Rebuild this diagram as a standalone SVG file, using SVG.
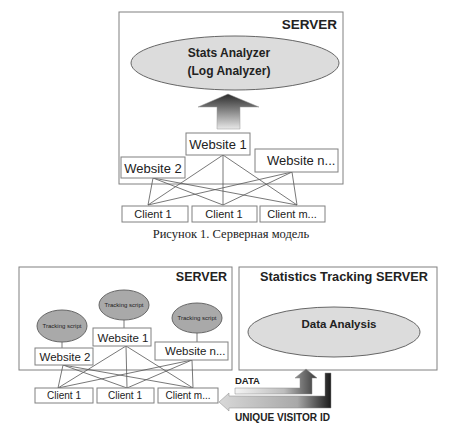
<svg xmlns="http://www.w3.org/2000/svg" width="456" height="428" viewBox="0 0 456 428">
<defs>
<linearGradient id="gUp" x1="0" y1="0" x2="0" y2="1">
<stop offset="0" stop-color="#2a2a2a"/><stop offset="1" stop-color="#e8e8e8"/>
</linearGradient>
<linearGradient id="gData" x1="0" y1="0" x2="1" y2="0">
<stop offset="0" stop-color="#f4f4f4"/><stop offset="0.6" stop-color="#bdbdbd"/><stop offset="1" stop-color="#3a3a3a"/>
</linearGradient>
<linearGradient id="gUid" x1="0" y1="0" x2="1" y2="0">
<stop offset="0" stop-color="#d8d8d8"/><stop offset="0.7" stop-color="#a8a8a8"/><stop offset="1" stop-color="#1a1a1a"/>
</linearGradient>
<style>
.box{fill:#fff;stroke:#808080;stroke-width:1}
.ell{fill:#dcdcdc;stroke:#666;stroke-width:1}
.tell{fill:#a9a9a9;stroke:#666;stroke-width:1}
.ln{stroke:#555;stroke-width:0.8;fill:none}
.b{font-family:"Liberation Sans",Arial,sans-serif;font-weight:bold;fill:#222}
.r{font-family:"Liberation Sans",Arial,sans-serif;fill:#222}
.cap{font-family:"Liberation Serif","Times New Roman",serif;fill:#222}
</style>
</defs>
<rect width="456" height="428" fill="#fff"/>

<!-- TOP DIAGRAM -->
<g id="server1">
<rect class="box" x="119" y="12" width="224" height="172"/>
<text class="b" x="337" y="29" font-size="13.5" text-anchor="end">SERVER</text>
</g>
<g id="stats-analyzer">
<ellipse class="ell" cx="235" cy="63" rx="104" ry="27"/>
<text class="b" x="229" y="57" font-size="12" text-anchor="middle">Stats Analyzer</text>
<text class="b" x="229" y="75" font-size="12" text-anchor="middle">(Log Analyzer)</text>
</g>
<g id="up-arrow">
<polygon points="228,94 259,107 240,107 240,129 217,129 217,107 198,107" fill="url(#gUp)" stroke="#999" stroke-width="0.5"/>
</g>
<g id="connectors1">
<line class="ln" x1="153" y1="178" x2="148" y2="205"/>
<line class="ln" x1="153" y1="178" x2="223" y2="205"/>
<line class="ln" x1="153" y1="178" x2="297" y2="205"/>
<line class="ln" x1="223" y1="155" x2="148" y2="205"/>
<line class="ln" x1="223" y1="155" x2="223" y2="205"/>
<line class="ln" x1="223" y1="155" x2="297" y2="205"/>
<line class="ln" x1="292" y1="172" x2="148" y2="205"/>
<line class="ln" x1="292" y1="172" x2="223" y2="205"/>
<line class="ln" x1="292" y1="172" x2="297" y2="205"/>
</g>
<g id="website1-top">
<rect class="box" x="186" y="133" width="64" height="22"/>
<text class="r" x="218" y="149" font-size="13" text-anchor="middle">Website 1</text>
</g>
<g id="website2-top">
<rect class="box" x="121" y="157" width="64" height="21"/>
<text class="r" x="153" y="173" font-size="13" text-anchor="middle">Website 2</text>
</g>
<g id="websiten-top">
<rect class="box" x="255" y="149" width="83" height="23"/>
<text class="r" x="267" y="165" font-size="13">Website n...</text>
</g>
<g id="client1a-top">
<rect class="box" x="122" y="206" width="66" height="16"/>
<text class="r" x="153" y="218" font-size="11" text-anchor="middle">Client 1</text>
</g>
<g id="client1b-top">
<rect class="box" x="192" y="206" width="65" height="16"/>
<text class="r" x="224" y="218" font-size="11" text-anchor="middle">Client 1</text>
</g>
<g id="clientm-top">
<rect class="box" x="260" y="206" width="65" height="16"/>
<text class="r" x="292" y="218" font-size="11" text-anchor="middle">Client m...</text>
</g>
<text class="cap" x="231" y="238" font-size="12.5" text-anchor="middle">Рисунок 1. Серверная модель</text>

<!-- BOTTOM DIAGRAM -->
<g id="server2">
<rect class="box" x="19" y="267" width="213" height="103"/>
<text class="b" x="227" y="281" font-size="12.5" text-anchor="end">SERVER</text>
</g>
<g id="tracking-server">
<rect class="box" x="239" y="267" width="198" height="103"/>
<text class="b" x="260" y="281" font-size="12" textLength="168" lengthAdjust="spacingAndGlyphs">Statistics Tracking SERVER</text>
</g>
<g id="data-analysis">
<ellipse class="ell" cx="334" cy="332" rx="86" ry="25"/>
<text class="b" x="339" y="328" font-size="11.5" text-anchor="middle">Data Analysis</text>
</g>
<g id="connectors2">
<line class="ln" x1="62" y1="342" x2="62" y2="348"/>
<line class="ln" x1="124" y1="320" x2="124" y2="328"/>
<line class="ln" x1="197" y1="333" x2="197" y2="342"/>
<line class="ln" x1="63" y1="365" x2="58" y2="388"/>
<line class="ln" x1="63" y1="365" x2="127" y2="388"/>
<line class="ln" x1="63" y1="365" x2="193" y2="388"/>
<line class="ln" x1="126" y1="346" x2="58" y2="388"/>
<line class="ln" x1="126" y1="346" x2="127" y2="388"/>
<line class="ln" x1="126" y1="346" x2="193" y2="388"/>
<line class="ln" x1="192" y1="360" x2="58" y2="388"/>
<line class="ln" x1="192" y1="360" x2="127" y2="388"/>
<line class="ln" x1="192" y1="360" x2="193" y2="388"/>
</g>
<g id="tracking2">
<ellipse class="tell" cx="62" cy="326" rx="25" ry="16"/>
<text class="r" x="62" y="328" font-size="6" text-anchor="middle">Tracking script</text>
</g>
<g id="tracking1">
<ellipse class="tell" cx="124" cy="305" rx="25" ry="15"/>
<text class="r" x="124" y="307" font-size="6" text-anchor="middle">Tracking script</text>
</g>
<g id="trackingn">
<ellipse class="tell" cx="197" cy="318" rx="25" ry="15"/>
<text class="r" x="197" y="320" font-size="6" text-anchor="middle">Tracking script</text>
</g>
<g id="website1-bot">
<rect class="box" x="93" y="328" width="58" height="18"/>
<text class="r" x="123" y="342" font-size="11.5" text-anchor="middle">Website 1</text>
</g>
<g id="website2-bot">
<rect class="box" x="35" y="348" width="58" height="17"/>
<text class="r" x="65" y="361" font-size="11.5" text-anchor="middle">Website 2</text>
</g>
<g id="websiten-bot">
<rect class="box" x="155" y="342" width="73" height="18"/>
<text class="r" x="165" y="355" font-size="11.5">Website n...</text>
</g>
<g id="client1a-bot">
<rect class="box" x="35" y="388" width="58" height="15"/>
<text class="r" x="64" y="399" font-size="10" text-anchor="middle">Client 1</text>
</g>
<g id="client1b-bot">
<rect class="box" x="97" y="388" width="57" height="15"/>
<text class="r" x="125" y="399" font-size="10" text-anchor="middle">Client 1</text>
</g>
<g id="clientm-bot">
<rect class="box" x="158" y="388" width="60" height="15"/>
<text class="r" x="188" y="399" font-size="10" text-anchor="middle">Client m...</text>
</g>
<g id="data-arrow">
<polygon points="235,388 300,388 300,378 295,378 306,369 317,378 312,378 312,394 235,394" fill="url(#gData)" stroke="#888" stroke-width="0.5"/>
<text class="b" x="235" y="384" font-size="9.5">DATA</text>
</g>
<g id="uid-arrow">
<polygon points="325,373 331,373 331,408 229,408 229,411 219,402 229,393 229,396 325,396" fill="url(#gUid)" stroke="#888" stroke-width="0.5"/>
<text class="b" x="235" y="421" font-size="10" textLength="95" lengthAdjust="spacingAndGlyphs">UNIQUE VISITOR ID</text>
</g>
</svg>
